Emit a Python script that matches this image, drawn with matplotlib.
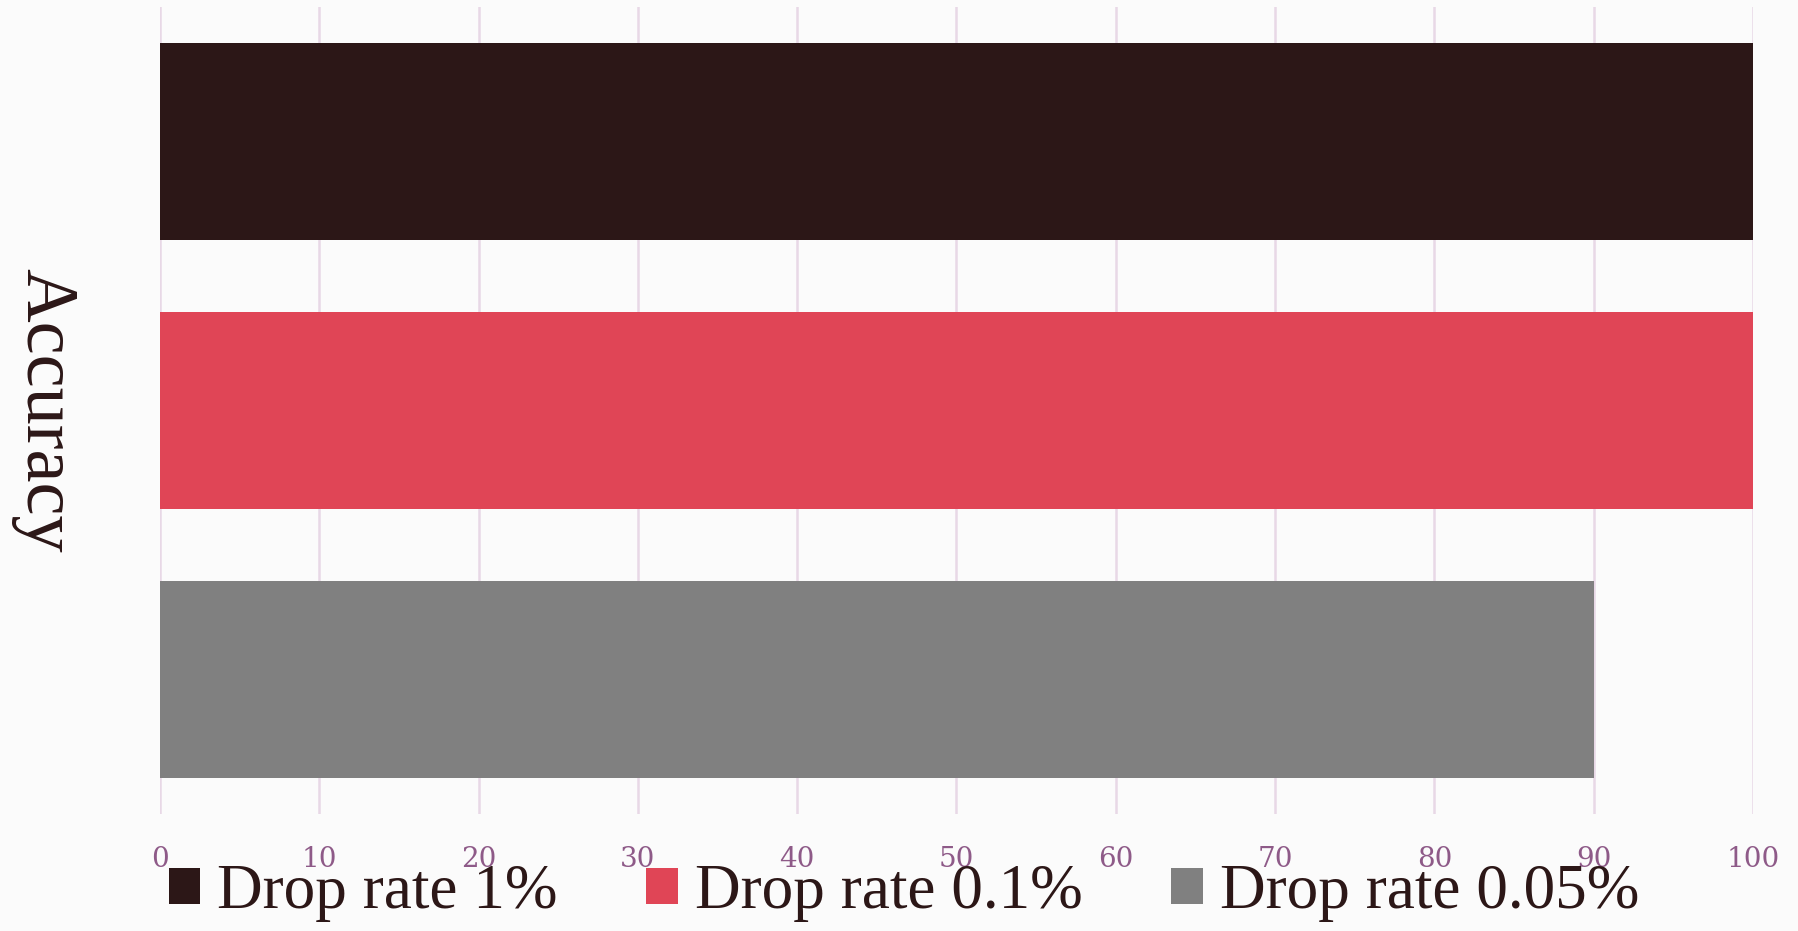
import matplotlib
matplotlib.use("Agg")
import matplotlib.pyplot as plt
from matplotlib.patches import Patch

# Accuracy reached for each drop rate
series = ["Drop rate 1%", "Drop rate 0.1%", "Drop rate 0.05%"]
accuracy = [100, 100, 90]
colors = ["#2C1717", "#E04556", "#808080"]
x_ticks = [0, 10, 20, 30, 40, 50, 60, 70, 80, 90, 100]

bg = "#FBFBFB"
text_color = "#2C1717"
tick_color = "#8E5A88"
grid_color = "#E8D8E6"

fig = plt.figure(figsize=(17.99, 9.31), dpi=100, facecolor=bg)
ax = fig.add_axes([160 / 1799, 1 - 814 / 931, (1753 - 160) / 1799, (814 - 7) / 931])
ax.set_facecolor(bg)

positions = list(range(len(series)))
ax.barh(positions, accuracy, height=0.735, color=colors, zorder=3)

ax.set_ylim(len(series) - 0.5, -0.5)
ax.set_xlim(0, 100)
ax.set_xticks(x_ticks)
ax.set_xticklabels([str(t) for t in x_ticks], family="DejaVu Serif",
                   fontsize=20, color=tick_color)
ax.tick_params(axis="x", length=0, pad=23)
ax.set_yticks([])
ax.grid(axis="x", color=grid_color, linewidth=1.8, zorder=1)
for side in ax.spines.values():
    side.set_visible(False)

fig.text(44 / 1799, 1 - 410.5 / 931, "Accuracy", rotation=270,
         ha="center", va="center", family="Liberation Serif",
         fontsize=53.5, color=text_color)

handles = [Patch(facecolor=c, edgecolor="none") for c in colors]
fig.legend(handles, series, loc="center", bbox_to_anchor=(0.5025, 1 - 893 / 931),
           ncol=3, frameon=False,
           prop={"family": "Liberation Serif", "size": 45.5},
           labelcolor=text_color, handlelength=0.5, handleheight=0.5,
           handletextpad=0.27, columnspacing=1.4, borderpad=0, borderaxespad=0)

fig.savefig("out.png", dpi=100, facecolor=bg)
